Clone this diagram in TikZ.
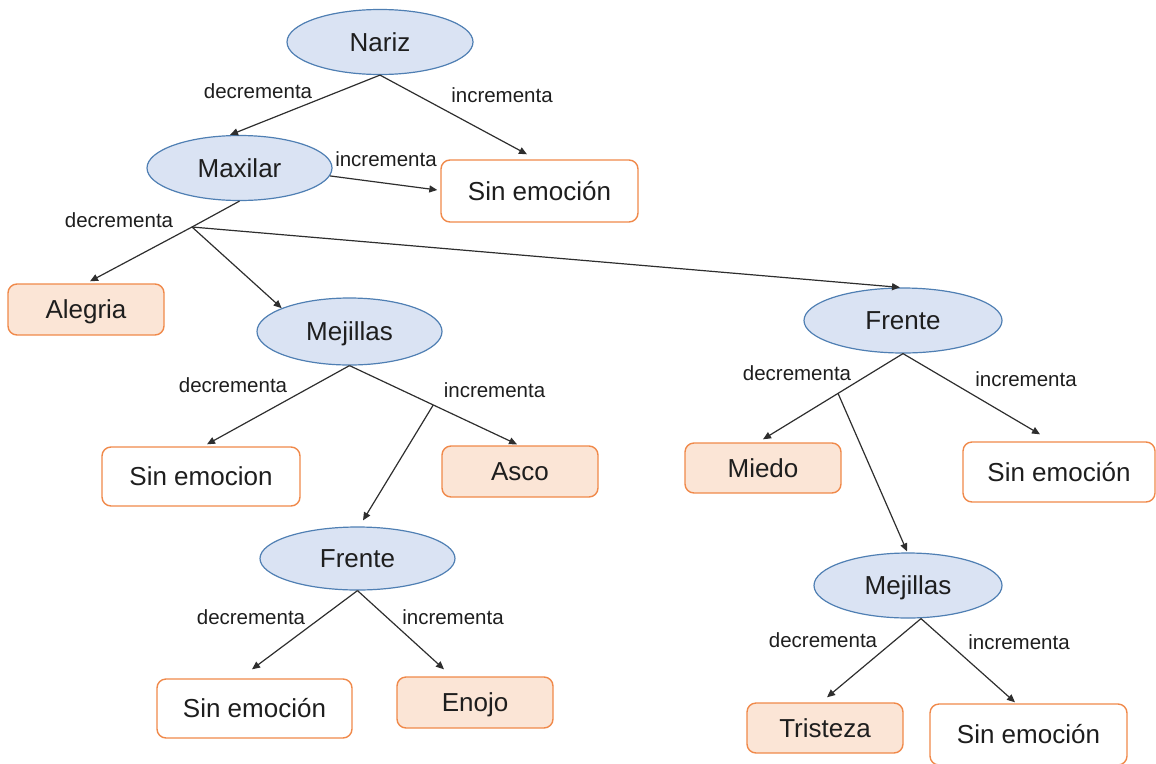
\documentclass[tikz,border=0pt]{standalone}
\usepackage{fontspec}
\setmainfont{Liberation Sans}
\usetikzlibrary{shapes.geometric,arrows.meta,calc}

\definecolor{ellfill}{HTML}{DAE3F3}
\definecolor{elldraw}{HTML}{4F7FB3}
\definecolor{boxdraw}{HTML}{F0894A}
\definecolor{boxfill}{HTML}{FBE5D6}
\definecolor{ink}{HTML}{1E1E1E}
\definecolor{wire}{HTML}{2E2E2E}

\tikzset{
  feature/.style={ellipse, draw=elldraw, fill=ellfill, line width=1.2pt, inner sep=0pt,
    text=ink, font=\fontsize{26}{30}\selectfont, text height=18.6pt, text depth=0pt},
  result/.style={rectangle, rounded corners=9pt, draw=boxdraw, line width=1.4pt, inner sep=0pt,
    text=ink, font=\fontsize{26}{30}\selectfont, text height=18.6pt, text depth=0pt},
  emotion/.style={result, fill=boxfill},
  neutral/.style={result, fill=white},
  edgelabel/.style={inner sep=0pt, text=ink, font=\fontsize{20.5}{24}\selectfont,
    text height=14.7pt, text depth=0pt},
  link/.style={draw=wire, line width=1.2pt},
  arrowlink/.style={link, -{Triangle[length=8pt,width=7pt]}},
}

\begin{document}
\begin{tikzpicture}[x=1pt, y=-1pt]
\useasboundingbox (0,0) rectangle (1156,763);

% facial features (decision nodes)
\node[feature, minimum width=186, minimum height=65] (nariz)   at (380,42)      {Nariz};
\node[feature, minimum width=185, minimum height=65] (maxilar) at (239.5,168)   {Maxilar};
\node[feature, minimum width=185, minimum height=67] (mej1)    at (349.5,331.5) {Mejillas};
\node[feature, minimum width=198, minimum height=65] (fr1)     at (903,320.5)   {Frente};
\node[feature, minimum width=195, minimum height=63] (fr2)     at (357.5,558.5) {Frente};
\node[feature, minimum width=188, minimum height=65] (mej2)    at (908,585.5)   {Mejillas};

% outcomes
\node[neutral, minimum width=197, minimum height=62] (sin1)     at (539.5,191)   {Sin emoción};
\node[emotion, minimum width=156, minimum height=51] (alegria)  at (86,309.5)    {Alegria};
\node[neutral, minimum width=198, minimum height=59] (sin2)     at (201,476.5)   {Sin emocion};
\node[emotion, minimum width=156, minimum height=51] (asco)     at (520,471.5)   {Asco};
\node[neutral, minimum width=195, minimum height=59] (sin3)     at (254.5,708.5) {Sin emoción};
\node[emotion, minimum width=156, minimum height=51] (enojo)    at (475,702.5)   {Enojo};
\node[emotion, minimum width=156, minimum height=50] (miedo)    at (763,468)     {Miedo};
\node[neutral, minimum width=192, minimum height=60] (sin4)     at (1059,472)    {Sin emoción};
\node[emotion, minimum width=156, minimum height=50] (tristeza) at (825,728)     {Tristeza};
\node[neutral, minimum width=197, minimum height=61] (sin5)     at (1028.5,734.5){Sin emoción};

% branch points
\coordinate (b1) at (192,227);
\coordinate (tasco) at ([shift={(-3,-1)}]asco.north);
\coordinate (b2) at ($(mej1.south)!0.5!(tasco)$);
\coordinate (tmiedo) at ([shift={(0,-3)}]miedo.north);
\coordinate (b3) at ($(fr1.south)!0.464!(tmiedo)$);
\coordinate (m2out) at ([shift={(13,0)}]mej2.south);

% Nariz
\draw[arrowlink] (nariz.south) -- ([shift={(-9.5,0)}]maxilar.north);
\draw[arrowlink] (nariz.south) -- ([shift={(-12.5,-5)}]sin1.north);
% Maxilar
\draw[arrowlink] (maxilar.-5) -- ([shift={(-3,-1)}]sin1.west);
\draw[link] (maxilar.south) -- (b1);
\draw[arrowlink] (b1) -- ([shift={(4,-2)}]alegria.north);
\draw[arrowlink] (b1) -- (mej1.161);
\draw[arrowlink] (b1) -- ([shift={(-3,0)}]fr1.north);
% Mejillas (left)
\draw[arrowlink] (mej1.south) -- ([shift={(6,-2)}]sin2.north);
\draw[arrowlink] (mej1.south) -- (tasco);
\draw[arrowlink] (b2) -- ([shift={(5.5,-6)}]fr2.north);
% Frente (lower middle)
\draw[arrowlink] (fr2.south) -- ([shift={(-2.5,-9)}]sin3.north);
\draw[arrowlink] (fr2.south) -- ([shift={(-31,-7)}]enojo.north);
% Frente (right)
\draw[arrowlink] (fr1.south) -- (tmiedo);
\draw[arrowlink] (b3) -- ([shift={(-1,-1)}]mej2.north);
\draw[arrowlink] (fr1.south) -- ([shift={(-19,-7)}]sin4.north);
% Mejillas (right)
\draw[arrowlink] (m2out) -- ([shift={(2,-5)}]tristeza.north);
\draw[arrowlink] (m2out) -- ([shift={(-13.5,-1)}]sin5.north);

% edge labels
\node[edgelabel] (l1)  at (258,91)   {decrementa};
\node[edgelabel] (l2)  at (502,95)   {incrementa};
\node[edgelabel] (l3)  at (386,159)  {incrementa};
\node[edgelabel] (l4)  at (119,220)  {decrementa};
\node[edgelabel] (l5)  at (233,385)  {decrementa};
\node[edgelabel] (l6)  at (494.5,390){incrementa};
\node[edgelabel] (l7)  at (251,617)  {decrementa};
\node[edgelabel] (l8)  at (453,617)  {incrementa};
\node[edgelabel] (l9)  at (797,373)  {decrementa};
\node[edgelabel] (l10) at (1026,379) {incrementa};
\node[edgelabel] (l11) at (823,640)  {decrementa};
\node[edgelabel] (l12) at (1019,642) {incrementa};
\end{tikzpicture}
\end{document}
